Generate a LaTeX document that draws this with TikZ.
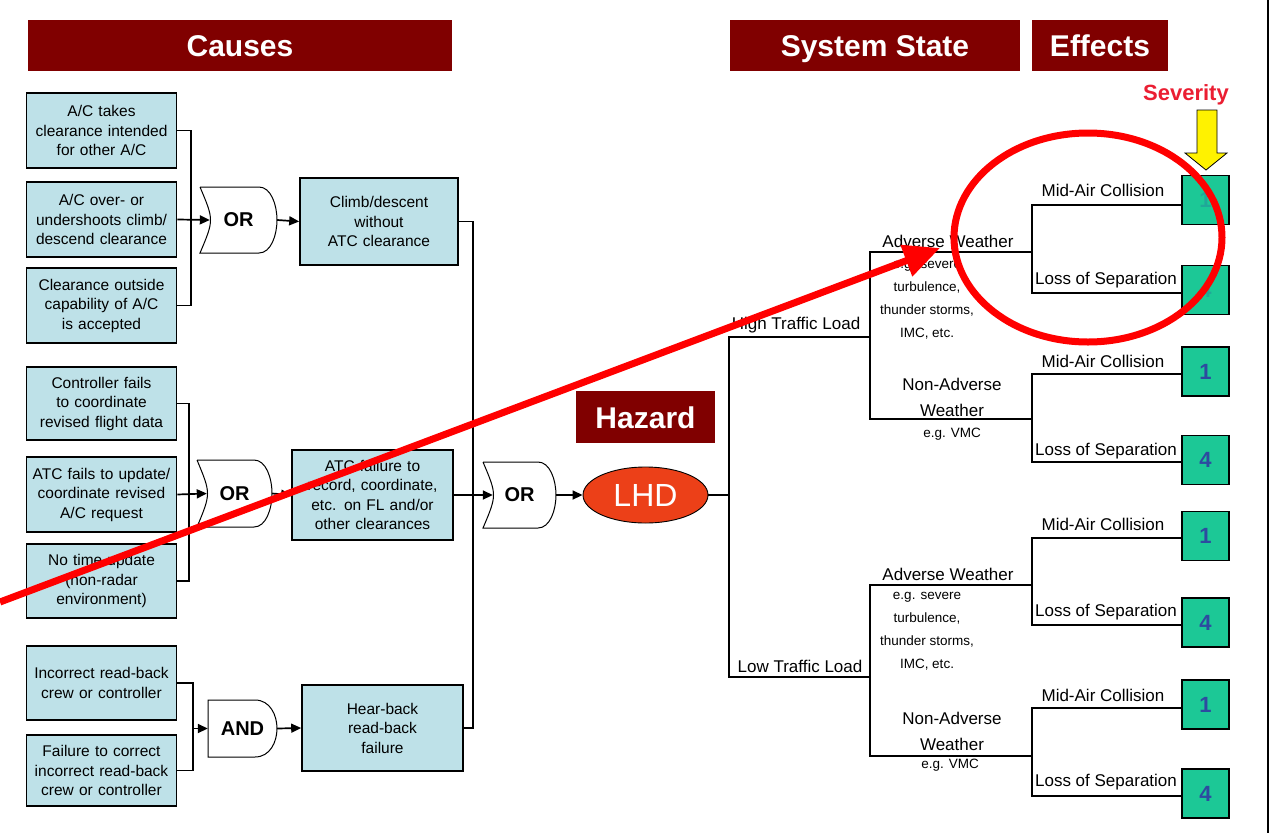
\documentclass[tikz,border=0pt]{standalone}
\usepackage{fontspec}
\setmainfont{Liberation Sans}
\usetikzlibrary{arrows.meta,shapes.geometric,calc}
\definecolor{hdr}{RGB}{128,0,0}
\definecolor{boxblue}{RGB}{190,225,232}
\definecolor{sevgreen}{RGB}{28,200,150}
\definecolor{digit}{RGB}{45,75,160}
\definecolor{lhdred}{RGB}{236,64,24}
\definecolor{markred}{RGB}{255,0,0}
\definecolor{sevtext}{RGB}{235,30,50}
\begin{document}
\begin{tikzpicture}[x=1pt,y=-1pt,
  header/.style={fill=hdr, text=white, font=\fontsize{30}{32}\selectfont\bfseries, inner sep=0pt,
    text height=22pt, text depth=0pt},
  cause/.style={draw, line width=1.6pt, fill=boxblue, inner sep=0pt, align=center,
    text width=150pt, font=\fontsize{15.5}{19.5}\selectfont, minimum width=149pt},
  wire/.style={line width=1.7pt},
  arr/.style={wire, -{Triangle[length=10pt,width=9pt]}},
  gatebody/.style={line width=1pt, fill=white},
  gatetext/.style={font=\fontsize{20}{22}\selectfont\bfseries, inner sep=0pt},
  tree/.style={line width=1.5pt},
  lbl/.style={font=\fontsize{17}{19}\selectfont, inner sep=0pt},
  twolbl/.style={font=\fontsize{17}{26}\selectfont, align=center, inner sep=0pt},
  note/.style={font=\fontsize{13.5}{23}\selectfont, align=center, inner sep=0pt},
  sev/.style={draw, line width=1.6pt, fill=sevgreen, minimum width=47pt, minimum height=49pt,
    inner sep=0pt, text=digit, font=\fontsize{22}{24}\selectfont\bfseries},
]
\useasboundingbox (0,0) rectangle (1272,833);
\fill[white] (0,0) rectangle (1272,833);

% column headers
\node[header, minimum width=424pt, minimum height=51pt] (hCauses) at (240,45) {Causes};
\node[header, minimum width=290pt, minimum height=51pt] (hState) at (875,45) {System State};
\node[header, minimum width=136pt, minimum height=51pt] (hEffects) at (1100,45) {Effects};
\node[header, minimum width=139pt, minimum height=52pt] (hHazard) at (645.5,417) {Hazard};

% severity marker
\node[font=\fontsize{22}{24}\selectfont\bfseries, text=sevtext, inner sep=0pt] (sevlbl) at (1186,95) {Severity};
\draw[fill=yellow, line width=0.8pt] (1197,110) -- (1217,110) -- (1217,153) -- (1227,153)
  -- (1206,170) -- (1185,153) -- (1197,153) -- cycle;

% causes
\node[cause, minimum height=75pt] (A1) at (101.5,130.5) {A/C takes\\clearance intended\\for other A/C};
\node[cause, minimum height=75pt] (A2) at (101.5,219.5) {A/C over- or\\undershoots climb/\\descend clearance};
\node[cause, minimum height=75pt] (A3) at (101.5,305.5) {Clearance outside\\capability of A/C\\is accepted};
\node[cause, minimum height=73pt] (C1) at (101.5,403.5) {Controller fails\\to coordinate\\revised flight data};
\node[cause, minimum height=75pt] (C2) at (101.5,494.5) {ATC fails to update/\\coordinate revised\\A/C request};
\node[cause, minimum height=74pt] (C3) at (101.5,581) {No time update\\(non-radar\\environment)};
\node[cause, minimum height=74pt] (E1) at (101.5,683) {Incorrect read-back\\crew or controller};
\node[cause, minimum height=71pt] (E2) at (101.5,770.5) {Failure to correct\\incorrect read-back\\crew or controller};

% intermediate events
\node[cause, minimum width=158pt, minimum height=87pt] (B1) at (379,221.5) {Climb/descent\\without\\ATC clearance};
\node[cause, minimum width=161pt, minimum height=90pt] (D1) at (372.5,495) {ATC failure to\\record, coordinate,\\etc. on FL and/or\\other clearances};
\node[cause, minimum width=161pt, minimum height=86pt] (F1) at (382.5,728) {Hear-back\\read-back\\failure};

% gate outlines
\draw[gatebody] (200,187) -- (259,187) .. controls (271,187) and (277,205) .. (277,220)
  .. controls (277,235) and (271,253) .. (259,253) -- (200,253) .. controls (214,220) .. (200,187);
\draw[gatebody] (197,460) -- (254,460) .. controls (266,460) and (272,478) .. (272,493.5)
  .. controls (272,509) and (266,527) .. (254,527) -- (197,527) .. controls (211,493.5) .. (197,460);
\draw[gatebody] (483,462) -- (538,462) .. controls (550,462) and (556,480) .. (556,495)
  .. controls (556,510) and (550,528) .. (538,528) -- (483,528) .. controls (497,495) .. (483,462);
\draw[gatebody] (208,700) -- (255,700) .. controls (270,700) and (277,715) .. (277,728.5)
  .. controls (277,742) and (270,757) .. (255,757) -- (208,757) -- cycle;

% gate labels
\node[gatetext, minimum width=77pt, minimum height=66pt] (or1) at (238.5,220) {OR};
\node[gatetext, minimum width=75pt, minimum height=67pt] (or2) at (234.5,493.5) {OR};
\node[gatetext, minimum width=73pt, minimum height=66pt] (or3) at (519.5,495) {OR};
\node[gatetext, minimum width=69pt, minimum height=57pt] (and1) at (242.5,728.5) {AND};

% hazard
\node[ellipse, draw, line width=0.9pt, fill=lhdred, text=white, minimum width=125pt,
  minimum height=56pt, inner sep=0pt, font=\fontsize{32}{34}\selectfont] (lhd) at (645.5,495) {LHD};

% cause wiring
\draw[wire] (A1.east) -- ++(14,0) |- (A3.east);
\draw[arr] (A2.east) -- ([xshift=10pt]or1.west);
\draw[arr] (or1.east) -- (B1.west);
\draw[wire] (C1.east) -- ++(12,0) |- (C3.east);
\draw[arr] (C2.east) -- ([xshift=10pt]or2.west);
\draw[arr] (or2.east) -- (D1.west);
\coordinate (eJ) at (193,728.5);
\draw[wire] (E1.east) -- (E1.east -| eJ) -- (E2.east -| eJ) -- (E2.east);
\draw[arr] (eJ) -- (and1.west);
\draw[arr] (and1.east) -- (F1.west);
\coordinate (bus) at (473,495);
\draw[wire] (B1.east) -- (B1.east -| bus) -- (F1.east -| bus) -- (F1.east);
\draw[arr] (D1.east) -- ([xshift=10pt]or3.west);
\draw[arr] (or3.east) -- (lhd.west);

% effect boxes
\node[sev, text opacity=0.25] (G1) at (1205.5,200) {1};
\node[sev, text opacity=0.25] (G2) at (1205.5,290) {4};
\node[sev] (G3) at (1205.5,371.5) {1};
\node[sev] (G4) at (1205.5,460) {4};
\node[sev] (G5) at (1205.5,536) {1};
\node[sev] (G6) at (1205.5,622.5) {4};
\node[sev] (G7) at (1205.5,704.5) {1};
\node[sev] (G8) at (1205.5,793.5) {4};

% event tree
\coordinate (root) at (729,495);
\coordinate (hi) at (870,337);
\coordinate (lo) at (870,677);
\coordinate (hiA) at (1032,252);
\coordinate (hiN) at (1032,419);
\coordinate (loA) at (1032,585);
\coordinate (loN) at (1032,756);
\coordinate (m1) at (1032,205);
\coordinate (m2) at (1032,293);
\coordinate (m3) at (1032,374);
\coordinate (m4) at (1032,462);
\coordinate (m5) at (1032,538);
\coordinate (m6) at (1032,625);
\coordinate (m7) at (1032,708);
\coordinate (m8) at (1032,796);
\draw[tree] (lhd.east) -- (root);
\draw[tree] (hi) -| (root) |- (lo);
\draw[tree] (hiA) -| (hi) |- (hiN);
\draw[tree] (loA) -| (lo) |- (loN);
\draw[tree] (G1.west |- m1) -- (m1) -- (m2) -- (G2.west |- m2);
\draw[tree] (G3.west |- m3) -- (m3) -- (m4) -- (G4.west |- m4);
\draw[tree] (G5.west |- m5) -- (m5) -- (m6) -- (G6.west |- m6);
\draw[tree] (G7.west |- m7) -- (m7) -- (m8) -- (G8.west |- m8);

% tree labels
\node[lbl] (tHi) at (796,325) {High Traffic Load};
\node[lbl] (tLo) at (800,666) {Low Traffic Load};
\node[lbl] (tHiA) at (948,241) {Adverse Weather};
\node[note] (tHiAn) at (927,300) {e.g. severe\\turbulence,\\thunder storms,\\IMC, etc.};
\node[twolbl] (tHiN) at (952,397) {Non-Adverse\\Weather};
\node[note] (tHiNn) at (952,434) {e.g. VMC};
\node[lbl] (tLoA) at (948,574) {Adverse Weather};
\node[note] (tLoAn) at (927,631) {e.g. severe\\turbulence,\\thunder storms,\\IMC, etc.};
\node[twolbl] (tLoN) at (952,731) {Non-Adverse\\Weather};
\node[note] (tLoNn) at (950,765) {e.g. VMC};
\node[lbl] (e1) at (1103,190) {Mid-Air Collision};
\node[lbl] (e2) at (1106,280) {Loss of Separation};
\node[lbl] (e3) at (1103,361) {Mid-Air Collision};
\node[lbl] (e4) at (1106,451) {Loss of Separation};
\node[lbl] (e5) at (1103,524) {Mid-Air Collision};
\node[lbl] (e6) at (1106,612) {Loss of Separation};
\node[lbl] (e7) at (1103,695) {Mid-Air Collision};
\node[lbl] (e8) at (1106,782) {Loss of Separation};

% page edge rule
\draw[line width=2pt] (1268,0) -- (1268,833);

% red annotation
\draw[markred, line width=7pt] (1088,237.5) ellipse [x radius=134pt, y radius=104.5pt];
\coordinate (pStart) at (0,602);
\coordinate (pTip) at (940,248);
\draw[markred, line width=7pt, -{Triangle[length=36pt,width=32pt]}] (pStart) -- (pTip);
\end{tikzpicture}
\end{document}
